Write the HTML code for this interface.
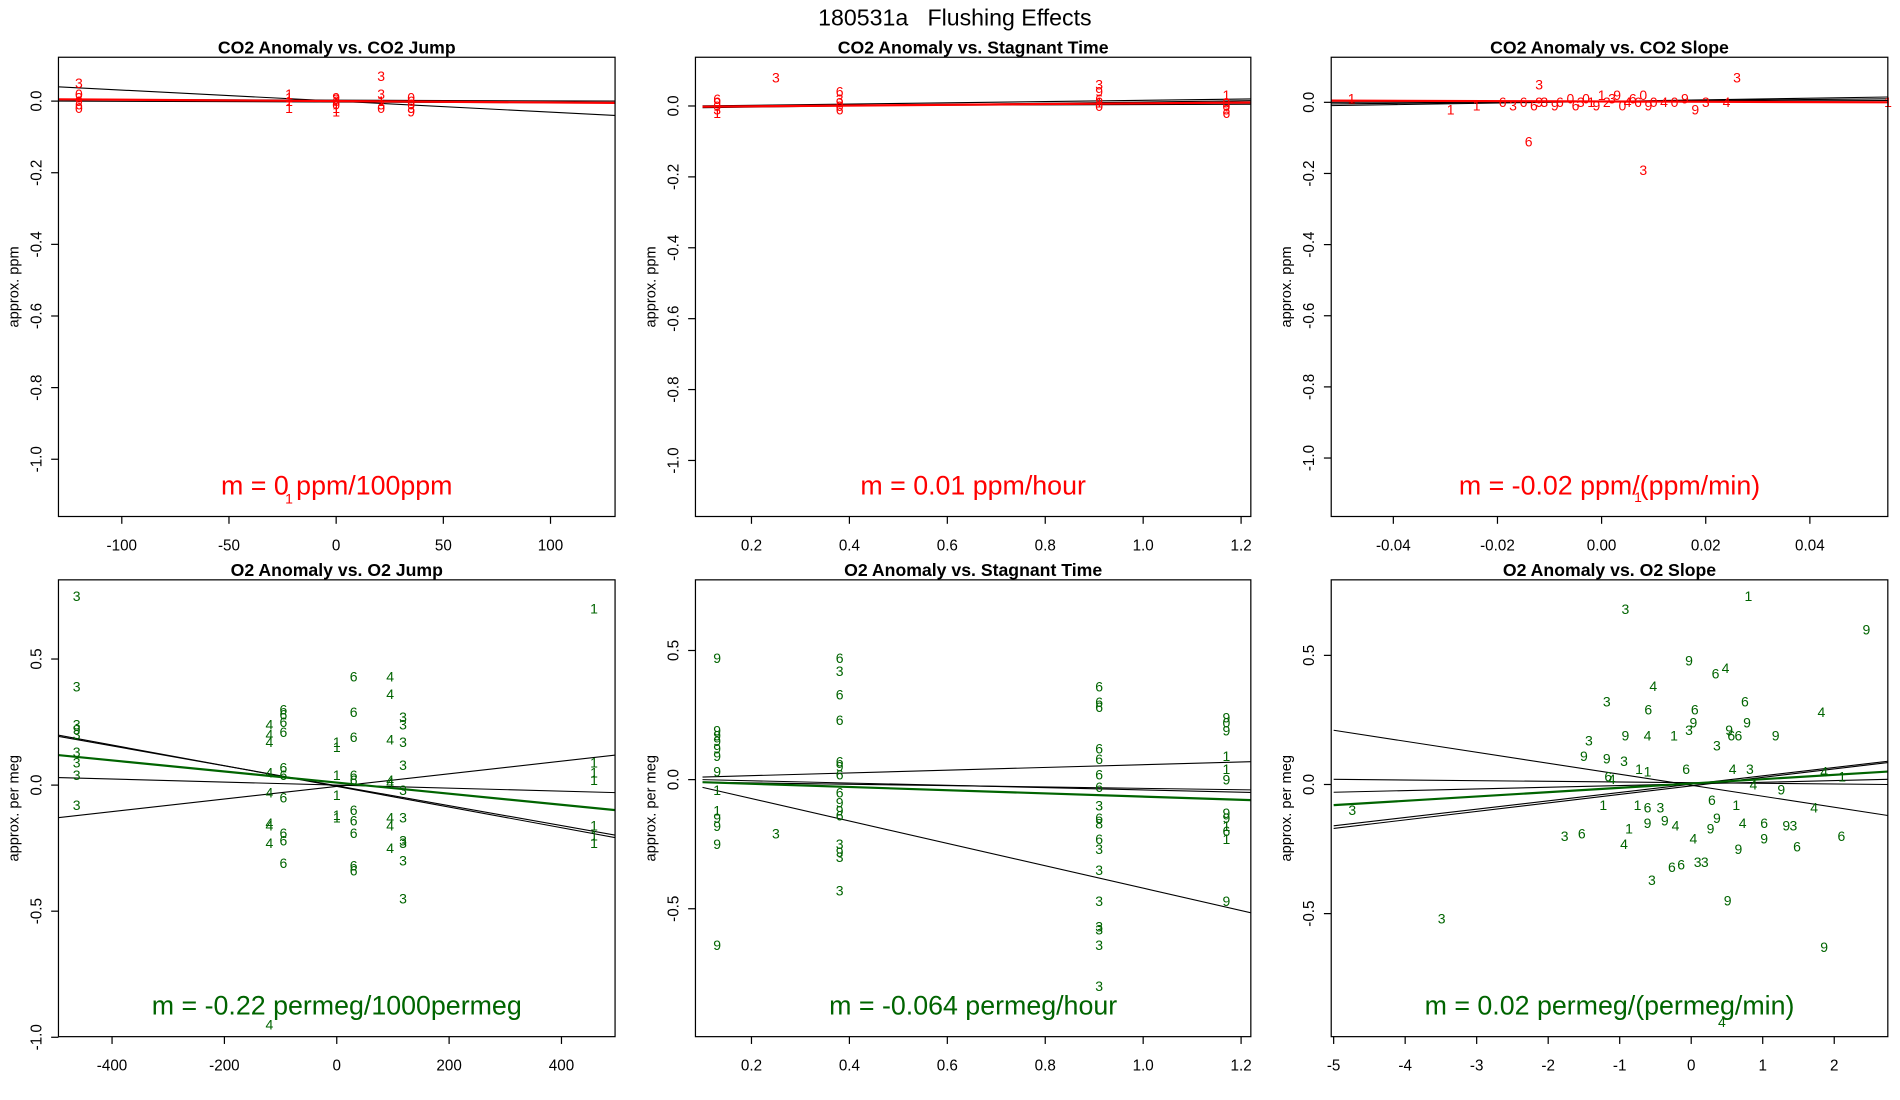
<!DOCTYPE html>
<html><head><meta charset="utf-8"><style>
html,body{margin:0;padding:0;background:#fff;}
svg{display:block;font-family:"Liberation Sans",sans-serif;}
</style></head><body>
<svg id="c" width="1900" height="1100" viewBox="0 0 1560 903" preserveAspectRatio="none">
<text x="784" y="21" text-anchor="middle" font-size="19" style="white-space:pre">180531a   Flushing Effects</text>
</svg>
<script>
// ---- data ----
const p1X=[-120,-120,-120,-120,-120,-120,-22,-22,-22,-22,0,0,0,0,0,0,21,21,21,21,21,35,35,35,35,35,-22];
const p1Y=[0.05,0.02,0.01,0.0,-0.01,-0.02,0.02,0.01,0.0,-0.02,0.01,0.0,-0.01,-0.02,-0.03,0.005,0.07,0.02,0.0,-0.01,-0.02,0.01,0.0,-0.01,-0.02,-0.03,-1.11];
const p1L=["3","0","3","9","6","0","1","1","1","1","9","6","0","1","1","3","3","3","1","3","0","0","6","0","3","9","1"];
const p2X=[0.13,0.13,0.13,0.13,0.13,0.25,0.38,0.38,0.38,0.38,0.38,0.91,0.91,0.91,0.91,0.91,1.17,1.17,1.17,1.17,1.17];
const p2Y=[0.02,0.01,0.0,-0.01,-0.02,0.08,0.04,0.02,0.01,0.0,-0.01,0.06,0.04,0.02,0.01,0.0,0.03,0.01,0.0,-0.01,-0.02];
const p2L=["6","9","0","3","1","3","6","3","9","0","6","3","9","6","1","0","1","9","0","3","6"];
const p3X=[-0.048,-0.029,-0.024,-0.019,-0.015,-0.013,-0.012,-0.011,-0.009,-0.008,-0.006,-0.005,-0.004,-0.003,-0.002,-0.001,0,0.001,0.002,0.003,0.004,0.005,0.006,0.007,0.008,0.009,0.01,0.012,0.014,0.016,0.018,0.02,0.024,0.055,-0.014,0.008,0.026,-0.012,0.007,-0.017];
const p3Y=[0.01,-0.02,-0.01,0.0,0.0,-0.01,0.05,0.0,-0.01,0.0,0.01,-0.01,0.0,0.01,0.0,-0.01,0.02,0.0,0.01,0.02,-0.01,0.0,0.01,0.0,0.02,-0.01,0.0,0.0,0.0,0.01,-0.02,0.0,0.0,0.0,-0.11,-0.19,0.07,0.0,-1.11,-0.01];
const p3L=["1","1","1","6","6","6","3","3","9","6","0","6","3","0","1","9","1","2","3","9","0","4","6","6","0","9","0","4","0","9","9","3","4","1","6","3","3","9","1","3"];
const p4X=[-463,-463,-463,-463,-463,-463,-463,-463,-463,-120,-120,-120,-120,-120,-120,-120,-120,-120,-95,-95,-95,-95,-95,-95,-95,-95,-95,-95,0,0,0,0,0,0,30,30,30,30,30,30,30,30,30,30,95,95,95,95,95,95,95,95,118,118,118,118,118,118,118,118,118,118,458,458,458,458,458,458,458];
const p4Y=[0.75,0.39,0.24,0.22,0.2,0.13,0.09,0.04,-0.08,0.24,0.2,0.17,0.05,-0.03,-0.15,-0.16,-0.23,-0.95,0.3,0.28,0.25,0.21,0.07,0.04,-0.05,-0.19,-0.22,-0.31,0.17,0.15,0.04,-0.04,-0.12,-0.13,0.43,0.29,0.19,0.04,0.02,-0.1,-0.14,-0.19,-0.32,-0.34,0.43,0.36,0.18,0.02,0.01,-0.13,-0.16,-0.25,0.27,0.24,0.17,0.08,-0.02,-0.13,-0.22,-0.23,-0.3,-0.45,0.7,0.09,0.05,0.02,-0.16,-0.2,-0.23];
const p4L=["3","3","3","9","3","3","3","3","3","4","4","4","4","4","4","4","4","4","6","6","6","6","6","6","6","6","6","6","1","1","1","1","1","1","6","6","6","6","6","6","6","6","6","6","4","4","4","4","4","4","4","4","3","3","3","3","3","3","3","3","3","3","1","1","1","1","1","1","1"];
const p5X=[0.13,0.13,0.13,0.13,0.13,0.13,0.13,0.13,0.13,0.13,0.13,0.13,0.13,0.25,0.38,0.38,0.38,0.38,0.38,0.38,0.38,0.38,0.38,0.38,0.38,0.38,0.38,0.38,0.38,0.91,0.91,0.91,0.91,0.91,0.91,0.91,0.91,0.91,0.91,0.91,0.91,0.91,0.91,0.91,0.91,0.91,0.91,1.17,1.17,1.17,1.17,1.17,1.17,1.17,1.17,1.17,1.17,1.17,1.17];
const p5Y=[0.47,0.19,0.17,0.15,0.12,0.09,0.03,-0.04,-0.12,-0.15,-0.18,-0.25,-0.64,-0.21,0.47,0.42,0.33,0.23,0.07,0.05,0.02,-0.05,-0.09,-0.12,-0.14,-0.25,-0.28,-0.3,-0.43,0.36,0.3,0.28,0.12,0.08,0.02,-0.03,-0.1,-0.15,-0.17,-0.23,-0.27,-0.35,-0.47,-0.57,-0.58,-0.64,-0.8,0.24,0.22,0.19,0.09,0.04,0.0,-0.13,-0.15,-0.18,-0.2,-0.23,-0.47];
const p5L=["9","9","9","9","9","9","9","1","1","9","9","9","9","3","6","3","6","6","6","9","6","6","9","9","6","3","9","3","3","6","6","6","6","6","6","6","3","6","8","6","3","3","3","3","3","3","3","9","0","9","1","1","9","9","9","1","6","1","9"];
const p6X=[-0.92,0.80,2.45,-0.03,0.34,0.48,-0.53,-1.18,-0.60,0.75,1.82,0.05,-1.43,-0.92,-0.61,-0.24,0.03,-0.03,0.53,0.56,0.66,0.78,1.18,0.36,-1.50,-1.18,-0.94,-0.73,-0.61,-0.07,0.58,0.82,1.86,2.11,-4.74,-1.11,-1.16,0.87,1.26,-1.23,-0.75,-0.61,-0.43,0.29,0.63,1.72,-0.87,-0.61,-0.37,-0.22,0.36,0.72,1.02,1.33,1.43,0.27,-1.77,-1.53,-0.94,0.03,0.66,1.02,1.48,2.10,-0.55,-0.27,-0.14,0.09,0.19,0.51,-3.49,1.86,0.43];
const p6Y=[0.68,0.73,0.60,0.48,0.43,0.45,0.38,0.32,0.29,0.32,0.28,0.29,0.17,0.19,0.19,0.19,0.24,0.21,0.21,0.19,0.19,0.24,0.19,0.15,0.11,0.10,0.09,0.06,0.05,0.06,0.06,0.06,0.05,0.03,-0.10,0.02,0.03,0.0,-0.02,-0.08,-0.08,-0.09,-0.09,-0.06,-0.08,-0.09,-0.17,-0.15,-0.14,-0.16,-0.13,-0.15,-0.15,-0.16,-0.16,-0.17,-0.20,-0.19,-0.23,-0.21,-0.25,-0.21,-0.24,-0.20,-0.37,-0.32,-0.31,-0.30,-0.30,-0.45,-0.52,-0.63,-0.92];
const p6L=["3","1","9","9","6","4","4","3","6","6","4","6","3","9","4","1","9","3","9","6","6","9","9","3","9","9","3","1","1","6","4","3","4","1","3","4","6","4","9","1","1","6","3","6","1","4","1","9","9","4","9","4","6","9","3","9","3","6","4","4","9","9","6","6","3","6","6","3","3","9","3","9","4"];
// fit lines: [x-start, y-start, x-end, y-end] in data units
const l1Black=[[-130,0.04,130,-0.04],[-130,0.005,130,0.0],[-130,0.0,130,-0.005]];
const l1Fit=[-130,0.005,130,-0.005];
const l2Black=[[0.1,0.0,1.23,0.02],[0.1,-0.005,1.23,0.015],[0.1,0.0,1.23,0.005]];
const l2Fit=[0.1,-0.002,1.23,0.01];
const l3Black=[[-0.055,-0.01,0.055,0.015],[-0.055,-0.005,0.055,0.01],[-0.055,0.0,0.055,0.005]];
const l3Fit=[-0.055,0.005,0.055,0.0];
const l4Black=[[-500,0.2,500,-0.21],[-500,0.195,500,-0.2],[-500,-0.13,500,0.12],[-500,0.03,500,-0.03]];
const l4Fit=[-500,0.12,500,-0.1];
const l5Black=[[0.1,-0.03,1.23,-0.52],[0.1,0.01,1.23,0.07],[0.1,0.0,1.23,-0.05],[0.1,-0.01,1.23,-0.04]];
const l5Fit=[0.1,-0.01,1.23,-0.08];
const l6Black=[[-5,0.21,2.75,-0.12],[-5,-0.16,2.75,0.09],[-5,-0.17,2.75,0.085],[-5,0.02,2.75,0.0],[-5,-0.03,2.75,0.02]];
const l6Fit=[-5,-0.08,2.75,0.05];
const xt1=[-100,-50,0,50,100], yt1=[0,-0.2,-0.4,-0.6,-0.8,-1.0];
const xt2=[0.2,0.4,0.6,0.8,1.0,1.2];
const xt3=[-0.04,-0.02,0,0.02,0.04];
const xt4=[-400,-200,0,200,400], yt4=[0.5,0,-0.5,-1.0];
const xt6=[-5,-4,-3,-2,-1,0,1,2], yt5=[0.5,0,-0.5];
// ---- layout ----
const NS="http://www.w3.org/2000/svg";
const svg=document.getElementById('c');
function mk(t,a,parent){const e=document.createElementNS(NS,t);for(const k in a)e.setAttribute(k,a[k]);(parent||svg).appendChild(e);return e;}
const panels=[
 {box:[48,505,47,424],xa:[-100,100,100,452],ya:[0,-1,83,377],xt:xt1,yt:yt1,fx:v=>String(v),fy:v=>v.toFixed(1),title:"CO2 Anomaly vs. CO2 Jump",ylab:"approx. ppm",X:p1X,Y:p1Y,L:p1L,bl:l1Black,fit:l1Fit,col:"#ff0000",m:"m = 0 ppm/100ppm",id:"co2-jump"},
 {box:[571,1027,47,424],xa:[0.2,1.2,617,1019],ya:[0,-1,87,378],xt:xt2,yt:yt1,fx:v=>v.toFixed(1),fy:v=>v.toFixed(1),title:"CO2 Anomaly vs. Stagnant Time",ylab:"approx. ppm",X:p2X,Y:p2Y,L:p2L,bl:l2Black,fit:l2Fit,col:"#ff0000",m:"m = 0.01 ppm/hour",id:"co2-stagnant"},
 {box:[1093,1550,47,424],xa:[-0.04,0.04,1144,1486],ya:[0,-1,84,376],xt:xt3,yt:yt1,fx:v=>v.toFixed(2),fy:v=>v.toFixed(1),title:"CO2 Anomaly vs. CO2 Slope",ylab:"approx. ppm",X:p3X,Y:p3Y,L:p3L,bl:l3Black,fit:l3Fit,col:"#ff0000",m:"m = -0.02 ppm/(ppm/min)",id:"co2-slope"},
 {box:[48,505,476,851],xa:[-400,400,92,461],ya:[0.5,-0.5,541,748],xt:xt4,yt:yt4,fx:v=>String(v),fy:v=>v.toFixed(1),title:"O2 Anomaly vs. O2 Jump",ylab:"approx. per meg",X:p4X,Y:p4Y,L:p4L,bl:l4Black,fit:l4Fit,col:"#006400",m:"m = -0.22 permeg/1000permeg",id:"o2-jump"},
 {box:[571,1027,476,851],xa:[0.2,1.2,617,1019],ya:[0.5,-0.5,534,746],xt:xt2,yt:yt5,fx:v=>v.toFixed(1),fy:v=>v.toFixed(1),title:"O2 Anomaly vs. Stagnant Time",ylab:"approx. per meg",X:p5X,Y:p5Y,L:p5L,bl:l5Black,fit:l5Fit,col:"#006400",m:"m = -0.064 permeg/hour",id:"o2-stagnant"},
 {box:[1093,1550,476,851],xa:[-5,2,1095,1506],ya:[0.5,-0.5,538,750],xt:xt6,yt:yt5,fx:v=>String(v),fy:v=>v.toFixed(1),title:"O2 Anomaly vs. O2 Slope",ylab:"approx. per meg",X:p6X,Y:p6Y,L:p6L,bl:l6Black,fit:l6Fit,col:"#006400",m:"m = 0.02 permeg/(permeg/min)",id:"o2-slope"}
];
panels.forEach((p,i)=>{
 const [x0,x1,y0,y1]=p.box;
 const sx=v=>p.xa[2]+(v-p.xa[0])*(p.xa[3]-p.xa[2])/(p.xa[1]-p.xa[0]);
 const sy=v=>p.ya[2]+(v-p.ya[0])*(p.ya[3]-p.ya[2])/(p.ya[1]-p.ya[0]);
 const g=mk('g',{});
 
 
 const cp=mk('clipPath',{id:'cp'+i},g);mk('rect',{x:x0,y:y0,width:x1-x0,height:y1-y0},cp);
 const t=mk('text',{x:(x0+x1)/2,y:y0-3,'text-anchor':'middle','font-size':'14.5','font-weight':'bold'},g);t.textContent=p.title;
 
 
 const yl=mk('text',{transform:`translate(${x0-33},${(y0+y1)/2}) rotate(-90)`,'text-anchor':'middle','font-size':'12'},g);yl.textContent=p.ylab;
 
 
 p.xt.forEach(v=>{const x=sx(v);mk('line',{x1:x,x2:x,y1:y1,y2:y1+6,stroke:'#000'},g);
  const tt=mk('text',{x:x,y:y1+28,'text-anchor':'middle','font-size':'12.5'},g);tt.textContent=p.fx(v);
  
  });
 p.yt.forEach(v=>{const y=sy(v);mk('line',{x1:x0,x2:x0-6,y1:y,y2:y,stroke:'#000'},g);
  const tt=mk('text',{transform:`translate(${x0-14},${y}) rotate(-90)`,'text-anchor':'middle','font-size':'12.5'},g);tt.textContent=p.fy(v);
  
  });
 const lg=mk('g',{'clip-path':`url(#cp${i})`},g);
 p.bl.forEach(l=>{const e=mk('line',{x1:sx(l[0]),y1:sy(l[1]),x2:sx(l[2]),y2:sy(l[3]),stroke:'#000','stroke-width':'0.9'},lg);
  
  });
 const f=p.fit;const fl=mk('line',{x1:sx(f[0]),y1:sy(f[1]),x2:sx(f[2]),y2:sy(f[3]),stroke:p.col,'stroke-width':'1.8'},lg);
 
 
 p.X.forEach((xv,k)=>{const e=mk('text',{x:sx(xv),y:sy(p.Y[k])+4,'text-anchor':'middle','font-size':'11.5',fill:p.col},g);e.textContent=p.L[k];
  
  });
 const m=mk('text',{x:(x0+x1)/2,y:y1-18,'text-anchor':'middle','font-size':'22',fill:p.col},g);m.textContent=p.m;
 
 
 const r=mk('rect',{x:x0,y:y0,width:x1-x0,height:y1-y0,fill:'none',stroke:'#000','stroke-width':'1'},g);
 
 
});
</script>
</body></html>
